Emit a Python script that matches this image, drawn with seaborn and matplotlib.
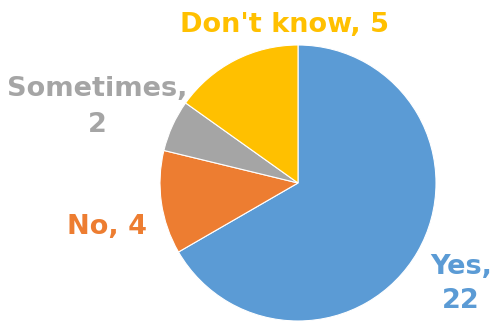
import matplotlib
matplotlib.use("Agg")
import matplotlib.pyplot as plt
import seaborn as sns

# Survey answers
categories = ["Yes", "No", "Sometimes", "Don't know"]
counts = [22, 4, 2, 5]
colors = ["#5B9BD5", "#ED7D31", "#A5A5A5", "#FFC000"]

sns.set_theme(style="white")
plt.rcParams['font.family'] = ['DejaVu Sans']

fig = plt.figure(figsize=(4.95, 3.23), dpi=100)
ax = fig.add_axes([0, 0, 1, 1])

ax.pie(counts, colors=colors, startangle=90, counterclock=False,
       center=(298, 140), radius=138,
       wedgeprops=dict(edgecolor="white", linewidth=0.8))

# data labels, placed like the original (pixel-ish coords, y up)
label_pos = {
    "Yes": (461, 39),
    "No": (107, 96),
    "Sometimes": (97, 216),
    "Don't know": (284, 298),
}
for cat, n, c in zip(categories, counts, colors):
    if cat in ("Yes", "Sometimes"):
        txt = f"{cat},\n{n}"
    else:
        txt = f"{cat}, {n}"
    x, y = label_pos[cat]
    ax.text(x, y, txt, color=c, fontsize=19.5, fontweight="bold",
            ha="center", va="center", linespacing=1.45)

ax.set_xlim(0, 495)
ax.set_ylim(0, 323)
ax.set_aspect("equal")
ax.axis("off")

fig.savefig("out.png", dpi=100, facecolor="white")
